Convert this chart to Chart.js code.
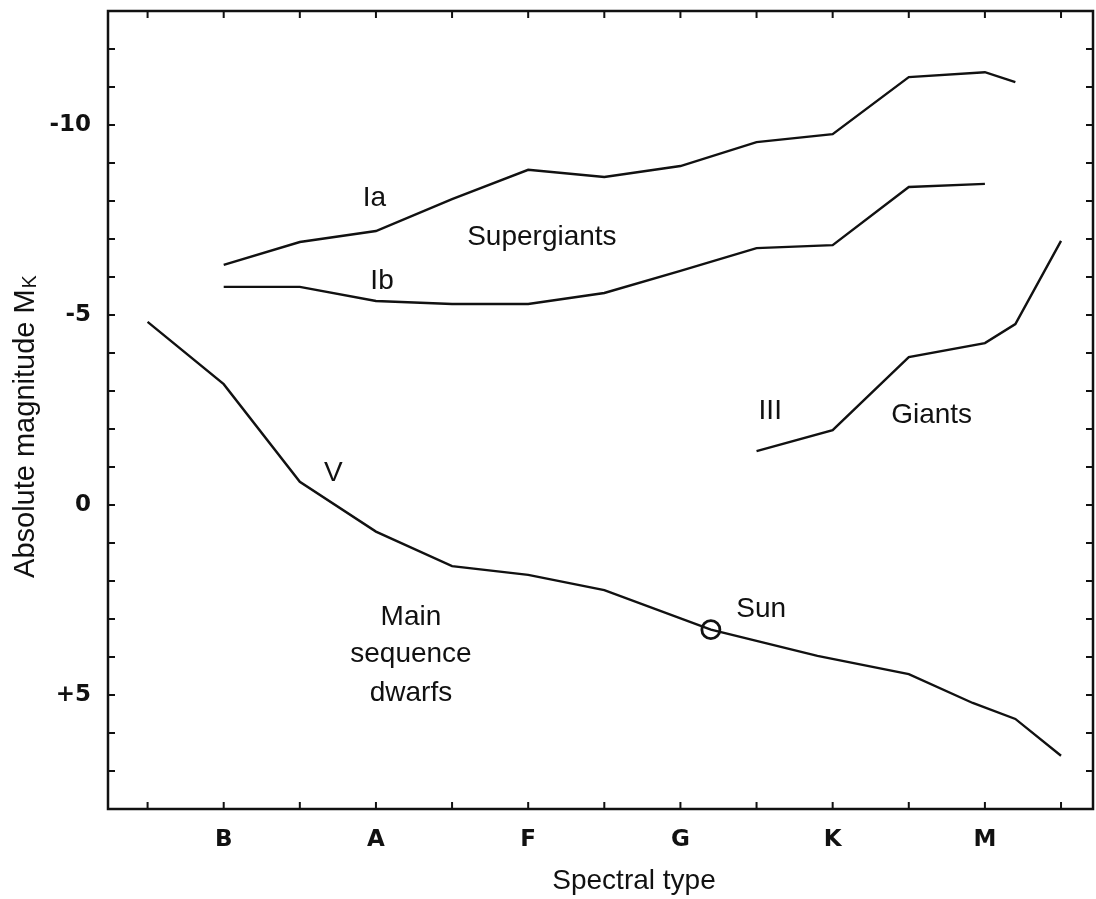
<!DOCTYPE html>
<html>
<head>
<meta charset="utf-8">
<script src="https://cdn.jsdelivr.net/npm/chart.js@4.4.0/dist/chart.umd.min.js"></script>
<style>
  html, body { margin: 0; padding: 0; background: #fff; }
</style>
</head>
<body>
<canvas id="hrChart" width="1096" height="899"></canvas>
<script>
// Spectral classes on the x axis (B = 1 ... M = 6)
const spectralTypes = ['B', 'A', 'F', 'G', 'K', 'M'];
const spectralPos = [1, 2, 3, 4, 5, 6];
const magTicks = [-10, -5, 0, 5];

// Supergiants Ia
const iaX = [1, 1.5, 2, 2.5, 3, 3.5, 4, 4.5, 5, 5.5, 6, 6.2];
const iaMag = [-6.32, -6.92, -7.21, -8.05, -8.82, -8.63, -8.92, -9.55, -9.76, -11.26, -11.39, -11.13];

// Supergiants Ib
const ibX = [1, 1.5, 2, 2.5, 3, 3.5, 4, 4.5, 5, 5.5, 6];
const ibMag = [-5.74, -5.74, -5.37, -5.29, -5.29, -5.58, -6.16, -6.76, -6.84, -8.37, -8.45];

// Giants III
const giantX = [4.5, 5, 5.5, 6, 6.2, 6.5];
const giantMag = [-1.42, -1.97, -3.89, -4.26, -4.76, -6.95];

// Main sequence V
const msX = [0.5, 1, 1.5, 2, 2.5, 3, 3.5, 4.2, 4.9, 5.5, 5.92, 6.2, 6.5];
const msMag = [-4.82, -3.18, -0.61, 0.7, 1.61, 1.84, 2.24, 3.28, 3.97, 4.45, 5.21, 5.63, 6.6];

// The Sun
const sunX = [4.2];
const sunMag = [3.28];

// text written inside the plot (data units, baseline)
const notes = [
  { text: 'Ia', x: 1.99, y: -7.87 },
  { text: 'Supergiants', x: 3.09, y: -6.84 },
  { text: 'Ib', x: 2.04, y: -5.68 },
  { text: 'V', x: 1.72, y: -0.63 },
  { text: 'III', x: 4.59, y: -2.26 },
  { text: 'Giants', x: 5.65, y: -2.16 },
  { text: 'Main', x: 2.23, y: 3.16 },
  { text: 'sequence', x: 2.23, y: 4.13 },
  { text: 'dwarfs', x: 2.23, y: 5.16 },
  { text: 'Sun', x: 4.53, y: 2.95 }
];

const INK = '#111';
const FONT = '"Liberation Sans", Arial, sans-serif';
const TICK_FONT = '"DejaVu Sans", sans-serif';

function pts(xs, ys) {
  return xs.map((v, i) => ({ x: v, y: ys[i] }));
}

function lineSet(label, xs, ys) {
  return {
    label: label,
    data: pts(xs, ys),
    showLine: true,
    borderColor: INK,
    borderWidth: 2.4,
    pointRadius: 0,
    tension: 0
  };
}

// frame, inward ticks, axis titles and labels
const decorPlugin = {
  id: 'decor',
  afterDraw(chart) {
    const { ctx, chartArea: a } = chart;
    const xs = chart.scales.x, ys = chart.scales.y;
    ctx.save();
    ctx.strokeStyle = INK;
    ctx.lineWidth = 2.5;
    ctx.strokeRect(a.left, a.top, a.right - a.left, a.bottom - a.top);

    ctx.lineWidth = 2;
    ctx.beginPath();
    for (let v = 0.5; v <= 6.5; v += 0.5) {
      const px = xs.getPixelForValue(v);
      ctx.moveTo(px, a.bottom); ctx.lineTo(px, a.bottom - 7);
      ctx.moveTo(px, a.top); ctx.lineTo(px, a.top + 7);
    }
    for (let v = -12; v <= 7; v++) {
      const py = ys.getPixelForValue(v);
      ctx.moveTo(a.left, py); ctx.lineTo(a.left + 7, py);
      ctx.moveTo(a.right, py); ctx.lineTo(a.right - 7, py);
    }
    ctx.stroke();

    // annotations
    ctx.fillStyle = INK;
    ctx.font = '28px ' + FONT;
    ctx.textAlign = 'center';
    ctx.textBaseline = 'alphabetic';
    notes.forEach(n => {
      ctx.fillText(n.text, xs.getPixelForValue(n.x), ys.getPixelForValue(n.y));
    });

    // x title
    ctx.font = '28px ' + FONT;
    ctx.fillText('Spectral type', a.left + (a.right - a.left) * 0.534, 889);

    // y title with subscript K
    const main = 'Absolute magnitude M';
    ctx.font = '29px ' + FONT;
    const w1 = ctx.measureText(main).width;
    ctx.font = '20px ' + FONT;
    const w2 = ctx.measureText('K').width;
    ctx.translate(34, 427);
    ctx.rotate(-Math.PI / 2);
    ctx.textAlign = 'left';
    ctx.font = '29px ' + FONT;
    ctx.fillText(main, -(w1 + w2) / 2, 0);
    ctx.font = '20px ' + FONT;
    ctx.fillText('K', -(w1 + w2) / 2 + w1 + 1, 2);
    ctx.restore();
  }
};

new Chart(document.getElementById('hrChart'), {
  type: 'scatter',
  data: {
    datasets: [
      lineSet('Ia', iaX, iaMag),
      lineSet('Ib', ibX, ibMag),
      lineSet('III', giantX, giantMag),
      lineSet('V', msX, msMag),
      {
        label: 'Sun',
        data: pts(sunX, sunMag),
        pointRadius: 9,
        pointBorderWidth: 2.8,
        pointBorderColor: INK,
        pointBackgroundColor: '#fff'
      },
      {
        label: 'Sun centre',
        data: pts(sunX, sunMag),
        pointRadius: 1.6,
        pointBorderWidth: 0,
        pointBackgroundColor: INK
      }
    ]
  },
  options: {
    responsive: false,
    devicePixelRatio: 1,
    animation: false,
    layout: { autoPadding: false, padding: { top: 11, right: 3, left: 0, bottom: 0 } },
    plugins: { legend: { display: false }, tooltip: { enabled: false } },
    scales: {
      x: {
        type: 'linear',
        min: 0.24,
        max: 6.71,
        grid: { display: false, drawTicks: false },
        border: { display: false },
        afterBuildTicks: s => { s.ticks = spectralPos.map(v => ({ value: v })); },
        afterFit: s => {
          s.height = 90;
          s.paddingLeft = 0;
          s.paddingRight = 0;
        },
        ticks: {
          autoSkip: false,
          maxRotation: 0,
          padding: 17,
          color: INK,
          font: { family: TICK_FONT, size: 23, weight: 'bold' },
          callback: v => spectralTypes[spectralPos.indexOf(v)] || ''
        }
      },
      y: {
        type: 'linear',
        reverse: true,
        min: -13,
        max: 8,
        grid: { display: false, drawTicks: false },
        border: { display: false },
        afterBuildTicks: s => { s.ticks = magTicks.map(v => ({ value: v })); },
        afterFit: s => {
          s.width = 108;
          s.paddingTop = 0;
          s.paddingBottom = 0;
        },
        ticks: {
          autoSkip: false,
          padding: 17,
          color: INK,
          font: { family: TICK_FONT, size: 23, weight: 'bold' },
          callback: v => (v > 0 ? '+' + v : String(v))
        }
      }
    }
  },
  plugins: [decorPlugin]
});
</script>
</body>
</html>
